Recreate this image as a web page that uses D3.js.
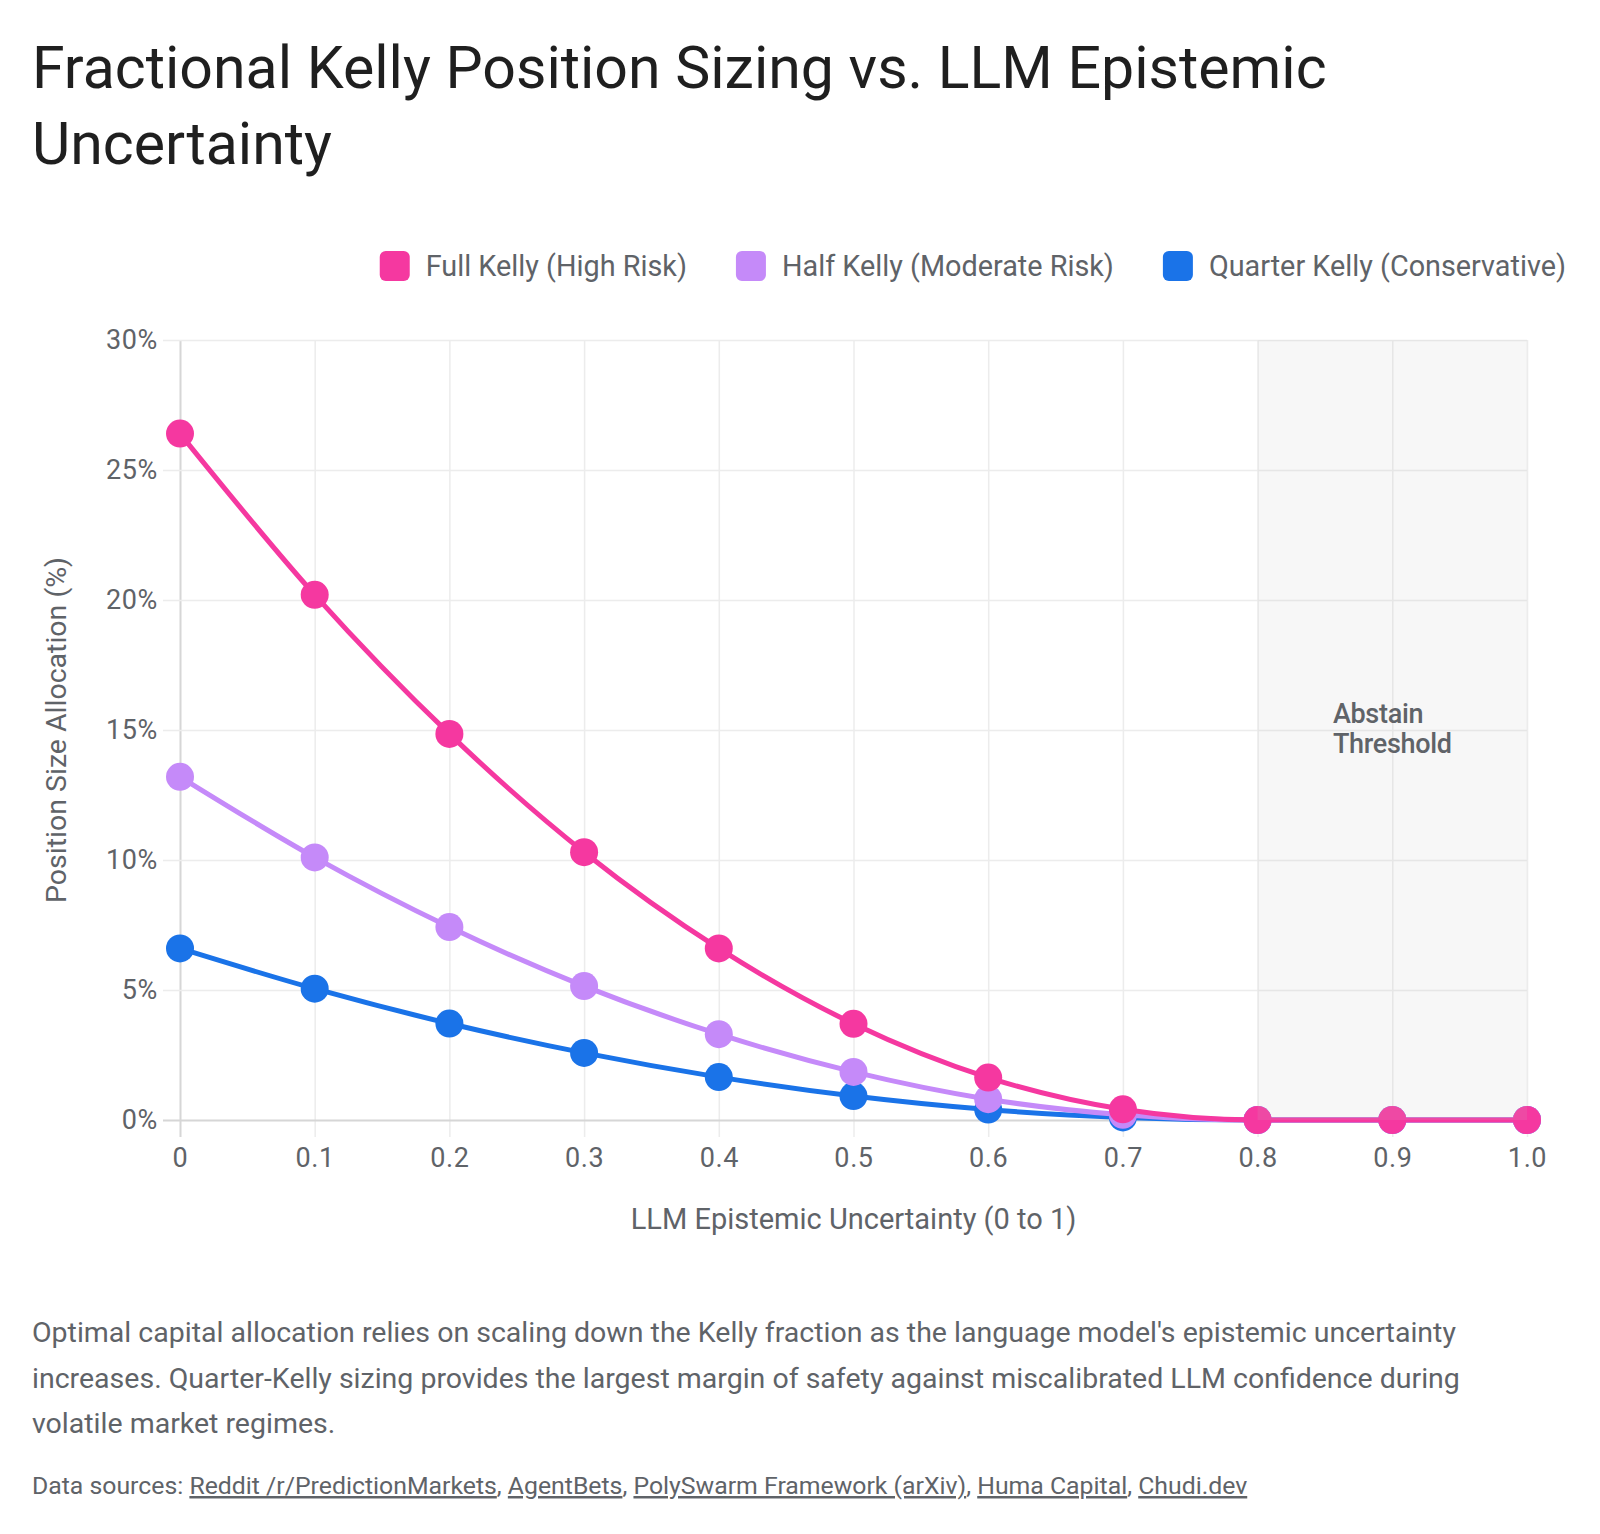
<!DOCTYPE html>
<html>
<head>
<meta charset="utf-8">
<script src="https://cdn.jsdelivr.net/npm/d3@7"></script>
<style>
  body { margin: 0; background: #fff; }
  svg { display: block; font-family: Roboto, "Noto Sans", sans-serif; }
</style>
</head>
<body>
<div id="chart"></div>
<script>
// page size
var w = 1600;
var h = 1534;

// data
var uncertainty = [0, 0.1, 0.2, 0.3, 0.4, 0.5, 0.6, 0.7, 0.8, 0.9, 1.0];
var fullKelly    = [26.4, 20.2, 14.85, 10.3, 6.6, 3.7, 1.63, 0.41, 0, 0, 0];
var halfKelly    = [13.2, 10.1, 7.42, 5.15, 3.3, 1.85, 0.8, 0.2, 0, 0, 0];
var quarterKelly = [6.6, 5.05, 3.71, 2.58, 1.65, 0.92, 0.4, 0.1, 0, 0, 0];

var seriesNames  = ["Full Kelly (High Risk)", "Half Kelly (Moderate Risk)", "Quarter Kelly (Conservative)"];
var seriesColors = ["#f538a0", "#c58af9", "#1a73e8"];

var xTicks = [0, 0.1, 0.2, 0.3, 0.4, 0.5, 0.6, 0.7, 0.8, 0.9, 1.0];
var xTickLabels = ["0", "0.1", "0.2", "0.3", "0.4", "0.5", "0.6", "0.7", "0.8", "0.9", "1.0"];
var yTicks = [0, 5, 10, 15, 20, 25, 30];
var yTickLabels = ["0%", "5%", "10%", "15%", "20%", "25%", "30%"];

var abstainRange = [0.8, 1.0];
var abstainLabel = ["Abstain", "Threshold"];

var titleLines = ["Fractional Kelly Position Sizing vs. LLM Epistemic", "Uncertainty"];
var captionLines = [
  "Optimal capital allocation relies on scaling down the Kelly fraction as the language model's epistemic uncertainty",
  "increases. Quarter-Kelly sizing provides the largest margin of safety against miscalibrated LLM confidence during",
  "volatile market regimes."
];
var sources = ["Reddit /r/PredictionMarkets", "AgentBets", "PolySwarm Framework (arXiv)", "Huma Capital", "Chudi.dev"];

// layout
var plot = { left: 180, right: 1527, top: 340, bottom: 1120 };
var textGray = "#5f6368";

var svg = d3.select("#chart")
  .append("svg")
  .attr("width", w)
  .attr("height", h);

// title
svg.append("text")
  .attr("x", 32)
  .attr("y", 88)
  .attr("font-size", "59px")
  .attr("fill", "#1f1f1f")
  .selectAll("tspan")
  .data(titleLines)
  .enter()
  .append("tspan")
  .attr("x", 32)
  .attr("dy", function(d, i) { return i == 0 ? 0 : 76; })
  .text(function(d) { return d; });

// scales
var x = d3.scaleLinear().domain([0, 1]).range([plot.left, plot.right]);
var y = d3.scaleLinear().domain([0, 30]).range([plot.bottom, plot.top]);

// grid + axes
var gridBottom = plot.bottom + 17;
var xAxis = svg.append("g")
  .attr("transform", "translate(0," + gridBottom + ")")
  .call(d3.axisBottom(x)
    .tickValues(xTicks)
    .tickFormat(function(d, i) { return xTickLabels[i]; })
    .tickSize(-(gridBottom - plot.top))
    .tickPadding(11));

var yAxis = svg.append("g")
  .attr("transform", "translate(" + plot.right + ",0)")
  .call(d3.axisLeft(y)
    .tickValues(yTicks)
    .tickFormat(function(d, i) { return yTickLabels[i]; })
    .tickSize(plot.right - 163)
    .tickPadding(5));

[xAxis, yAxis].forEach(function(g) {
  g.select(".domain").remove();
  g.selectAll(".tick line")
    .attr("stroke", function(d) { return d == 0 ? "#d6d6d6" : "#ececec"; })
    .attr("stroke-width", function(d) { return d == 0 ? 2 : 1.5; });
  g.selectAll(".tick text")
    .attr("fill", textGray)
    .attr("font-size", "27px")
    .attr("letter-spacing", "0.6px")
    .attr("font-family", "Roboto, sans-serif");
});
// keep zero lines above other grid lines
xAxis.selectAll(".tick").filter(function(d) { return d == 0; }).raise();
yAxis.selectAll(".tick").filter(function(d) { return d == 0; }).raise();

// axis titles
svg.append("text")
  .attr("x", (plot.left + plot.right) / 2)
  .attr("y", 1229)
  .attr("text-anchor", "middle")
  .attr("font-size", "29px")
  .attr("fill", textGray)
  .text("LLM Epistemic Uncertainty (0 to 1)");

svg.append("text")
  .attr("transform", "translate(66," + ((plot.top + plot.bottom) / 2) + ") rotate(-90)")
  .attr("text-anchor", "middle")
  .attr("font-size", "28.5px")
  .attr("fill", textGray)
  .text("Position Size Allocation (%)");

// series, drawn bottom-up so Full Kelly sits on top
var series = [fullKelly, halfKelly, quarterKelly];
var line = d3.line()
  .x(function(d, i) { return x(uncertainty[i]); })
  .y(function(d) { return y(d); })
  .curve(d3.curveMonotoneX);

for (var s = series.length - 1; s >= 0; s--) {
  var g = svg.append("g");
  g.append("path")
    .datum(series[s])
    .attr("d", line)
    .attr("fill", "none")
    .attr("stroke", seriesColors[s])
    .attr("stroke-width", 5);
  g.selectAll("circle")
    .data(series[s])
    .enter()
    .append("circle")
    .attr("cx", function(d, i) { return x(uncertainty[i]); })
    .attr("cy", function(d) { return y(d); })
    .attr("r", 14)
    .attr("fill", seriesColors[s]);
}

// abstain region (overlay)
svg.append("rect")
  .attr("x", x(abstainRange[0]))
  .attr("y", y(30))
  .attr("width", x(abstainRange[1]) - x(abstainRange[0]))
  .attr("height", y(0) - y(30))
  .attr("fill", "rgba(196,196,196,0.13)");

var abst = svg.append("text")
  .attr("font-size", "27px")
  .attr("font-weight", 500)
  .attr("fill", textGray)
  .attr("letter-spacing", "-0.3px");
abst.selectAll("tspan")
  .data(abstainLabel)
  .enter()
  .append("tspan")
  .attr("dy", function(d, i) { return i == 0 ? 0 : 30; })
  .text(function(d) { return d; });
var abstW = 0;
abst.selectAll("tspan").each(function() { abstW = Math.max(abstW, this.getComputedTextLength()); });
var abstX = x((abstainRange[0] + abstainRange[1]) / 2) - abstW / 2;
abst.attr("x", abstX).attr("y", y(15) - 7);
abst.selectAll("tspan").attr("x", abstX);

// legend, right aligned
var legend = svg.append("g");
var items = legend.selectAll("g")
  .data(seriesNames)
  .enter()
  .append("g");
items.append("rect")
  .attr("width", 30)
  .attr("height", 30)
  .attr("rx", 6)
  .attr("fill", function(d, i) { return seriesColors[i]; });
items.append("text")
  .attr("x", 46)
  .attr("y", 25)
  .attr("font-size", "28.8px")
  .attr("fill", textGray)
  .text(function(d) { return d; });
var widths = [];
items.each(function() { widths.push(46 + d3.select(this).select("text").node().getComputedTextLength()); });
var total = d3.sum(widths) + 49 * (widths.length - 1);
var lx = 1566 - total;
items.attr("transform", function(d, i) {
  var t = "translate(" + lx + ",251)";
  lx += widths[i] + 49;
  return t;
});

// caption
svg.append("text")
  .attr("font-size", "28.5px")
  .attr("fill", textGray)
  .selectAll("tspan")
  .data(captionLines)
  .enter()
  .append("tspan")
  .attr("x", 32)
  .attr("y", function(d, i) { return 1342 + i * 45.5; })
  .text(function(d) { return d; });

// sources
var src = svg.append("text")
  .attr("x", 32)
  .attr("y", 1494)
  .attr("font-size", "24.8px")
  .attr("fill", textGray);
src.append("tspan").text("Data sources: ");
sources.forEach(function(d, i) {
  src.append("tspan").attr("text-decoration", "underline").text(d);
  if (i < sources.length - 1) src.append("tspan").text(", ");
});
</script>
</body>
</html>
